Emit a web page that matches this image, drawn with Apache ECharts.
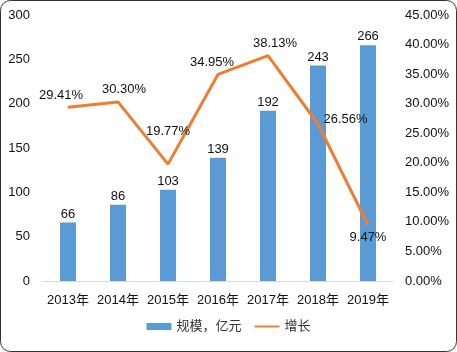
<!DOCTYPE html>
<html lang="zh">
<head>
<meta charset="UTF-8">
<title>规模与增长</title>
<script src="https://cdn.jsdelivr.net/npm/echarts@6/dist/echarts.min.js"></script>
<style>
    html, body { margin: 0; padding: 0; background: #fff; }
    #chart { width: 457px; height: 352px; }
</style>
</head>
<body>
<div id="chart"></div>
<script>
// 数据
var years = ['2013年', '2014年', '2015年', '2016年', '2017年', '2018年', '2019年'];
var scale = [66, 86, 103, 139, 192, 243, 266];       // 规模，亿元
var growth = [29.41, 30.30, 19.77, 34.95, 38.13, 26.56, 9.47]; // 增长 %

// 折线标签位置（按图中摆放）
var growthLabelPos = [
    { position: 'top', offset: [-7, 0] },
    { position: 'top', offset: [6, 0] },
    { position: 'top', offset: [0, -21] },
    { position: 'top', offset: [-6, 0] },
    { position: 'top', offset: [7, 0] },
    { position: 'right', offset: [0, -5] },
    { position: 'bottom', offset: [0, 0] }
];

var font = '"Liberation Sans", "Noto Sans CJK SC", sans-serif';
var chart = echarts.init(document.getElementById('chart'), null, { renderer: 'canvas' });

chart.setOption({
    animation: false,
    textStyle: { fontFamily: font },
    graphic: [{
        type: 'rect',
        shape: { x: 0.5, y: 0.5, width: 456, height: 351, r: 10 },
        style: { fill: 'none', stroke: '#333', lineWidth: 1 },
        silent: true
    }],
    grid: { left: 43, right: 64, top: 15, bottom: 71 },
    legend: {
        bottom: 14,
        itemGap: 12,
        itemWidth: 25,
        itemHeight: 7,
        textStyle: { fontSize: 13, color: '#333', fontFamily: font },
        data: [
            { name: '规模，亿元', icon: 'rect' },
            { name: '增长', itemStyle: { opacity: 0 } }
        ]
    },
    xAxis: {
        type: 'category',
        data: years,
        axisLine: { lineStyle: { color: '#d9d9d9', width: 1 } },
        axisTick: { show: false },
        axisLabel: { color: '#111', fontSize: 13, margin: 13, interval: 0, fontFamily: font }
    },
    yAxis: [{
        type: 'value',
        min: 0, max: 300, interval: 50,
        splitLine: { show: false },
        axisLine: { show: false },
        axisTick: { show: false },
        axisLabel: { color: '#111', fontSize: 13, margin: 13, fontFamily: font }
    }, {
        type: 'value',
        min: 0, max: 45, interval: 5,
        splitLine: { show: false },
        axisLine: { show: false },
        axisTick: { show: false },
        axisLabel: {
            color: '#111', fontSize: 13, margin: 12, fontFamily: font,
            formatter: function (v) { return v.toFixed(2) + '%'; }
        }
    }],
    series: [{
        name: '规模，亿元',
        type: 'bar',
        data: scale,
        barWidth: 16,
        itemStyle: { color: '#5B9BD5' },
        label: {
            show: true, position: 'top', distance: 2,
            color: '#111', fontSize: 13, fontFamily: font
        }
    }, {
        name: '增长',
        type: 'line',
        yAxisIndex: 1,
        z: 3,
        data: growth.map(function (v, i) {
            return {
                value: v,
                label: growthLabelPos[i]
            };
        }),
        symbol: 'circle',
        symbolSize: 1,
        showSymbol: true,
        lineStyle: { color: '#ED7D31', width: 3 },
        itemStyle: { color: '#ED7D31' },
        label: {
            show: true,
            color: '#111', fontSize: 13, fontFamily: font,
            formatter: function (p) { return p.value.toFixed(2) + '%'; }
        }
    }]
});
</script>
</body>
</html>
